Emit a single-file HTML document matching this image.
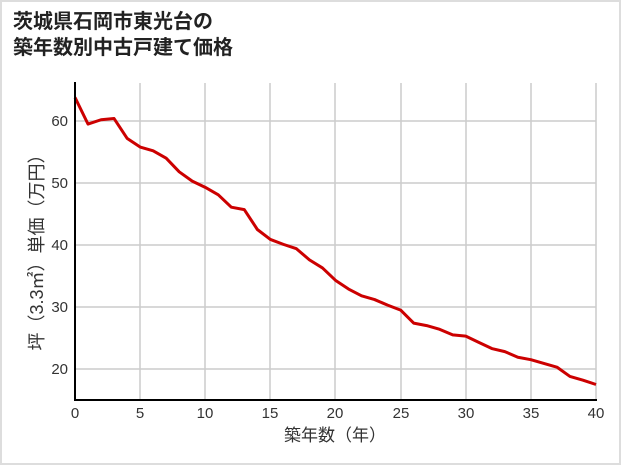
<!DOCTYPE html>
<html><head><meta charset="utf-8"><style>
body{margin:0;background:#fff}
.w{position:relative;width:617px;height:461px;border:2px solid #ddd;background:#fff;overflow:hidden}
.t{position:absolute;left:11px;top:7px;font:bold 20px/26px "Liberation Sans","Noto Sans CJK JP",sans-serif;color:#222}
</style></head><body><div class="w">
<div class="t">茨城県石岡市東光台の<br>築年数別中古戸建て価格</div>
<svg width="621" height="465" style="position:absolute;left:-2px;top:-2px" font-family="Liberation Sans, Noto Sans CJK JP, sans-serif">
<g stroke="#ccc" stroke-width="1.5">
<line x1="140" y1="83" x2="140" y2="400"/><line x1="205" y1="83" x2="205" y2="400"/><line x1="270" y1="83" x2="270" y2="400"/><line x1="335" y1="83" x2="335" y2="400"/><line x1="401" y1="83" x2="401" y2="400"/><line x1="466" y1="83" x2="466" y2="400"/><line x1="531" y1="83" x2="531" y2="400"/><line x1="596" y1="83" x2="596" y2="400"/>
<line x1="75" y1="121" x2="596" y2="121"/><line x1="75" y1="183" x2="596" y2="183"/><line x1="75" y1="245" x2="596" y2="245"/><line x1="75" y1="307" x2="596" y2="307"/><line x1="75" y1="369" x2="596" y2="369"/>
</g>
<g transform="matrix(13.025 0 0 -6.2 75 493)">
<polyline fill="none" stroke="#cc0000" stroke-width="3" vector-effect="non-scaling-stroke" stroke-linejoin="round" points="0,63.8 1,59.5 2,60.2 3,60.4 4,57.2 5,55.8 6,55.2 7,54 8,51.8 9,50.3 10,49.3 11,48.1 12,46.1 13,45.7 14,42.5 15,40.9 16,40.1 17,39.4 18,37.6 19,36.3 20,34.3 21,32.9 22,31.8 23,31.2 24,30.3 25,29.5 26,27.4 27,27 28,26.4 29,25.5 30,25.3 31,24.3 32,23.3 33,22.8 34,21.9 35,21.5 36,20.9 37,20.3 38,18.8 39,18.2 40,17.5"/>
</g>
<line x1="75" y1="82" x2="75" y2="401" stroke="#000" stroke-width="2"/>
<line x1="74" y1="400" x2="597" y2="400" stroke="#000" stroke-width="2"/>
<g font-size="15" fill="#333" text-anchor="end">
<text x="68" y="126">60</text><text x="68" y="188">50</text><text x="68" y="250">40</text><text x="68" y="312">30</text><text x="68" y="374">20</text>
</g>
<g font-size="15" fill="#333" text-anchor="middle">
<text x="75" y="418">0</text><text x="140" y="418">5</text><text x="205" y="418">10</text><text x="270" y="418">15</text><text x="335" y="418">20</text><text x="401" y="418">25</text><text x="466" y="418">30</text><text x="531" y="418">35</text><text x="596" y="418">40</text>
<text x="335" y="441" font-size="17">築年数（年）</text>
<text transform="translate(43,248) rotate(-90)" font-size="18">坪（3.3㎡）単価（万円）</text>
</g>
</svg></div></body></html>
